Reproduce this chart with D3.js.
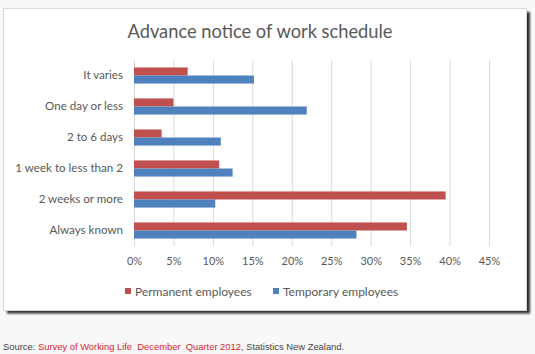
<!DOCTYPE html>
<html>
<head>
<meta charset="utf-8">
<script src="https://cdn.jsdelivr.net/npm/d3@7"></script>
<style>
  body { margin: 0; background: #f8f8f8; }
  svg { display: block; }
</style>
</head>
<body>
<div id="chart"></div>
<script>
// Data (percent of employees)
const categories = ['It varies', 'One day or less', '2 to 6 days', '1 week to less than 2', '2 weeks or more', 'Always known'];
const seriesNames = ['Permanent employees', 'Temporary employees'];
const permanent = [6.8, 5.0, 3.5, 10.8, 39.5, 34.6];
const temporary = [15.2, 21.9, 11.0, 12.5, 10.3, 28.2];
const xTicks = [0, 5, 10, 15, 20, 25, 30, 35, 40, 45];

const W = 535, H = 354;
const colors = { 'Permanent employees': '#c0504d', 'Temporary employees': '#4f81bd' };
const textColor = '#595959';
const font = 'Lato, "Open Sans", sans-serif';

const svg = d3.select('#chart').append('svg')
  .attr('width', W)
  .attr('height', H);

// drop shadow + chart frame
const defs = svg.append('defs');
defs.append('filter').attr('id', 'blur')
  .append('feGaussianBlur').attr('stdDeviation', 0.8);

svg.append('rect')
  .attr('x', 7).attr('y', 12)
  .attr('width', 523).attr('height', 301.5)
  .attr('fill', '#2e2e2e')
  .attr('filter', 'url(#blur)');

svg.append('rect')
  .attr('x', 3.5).attr('y', 8.5)
  .attr('width', 523).attr('height', 302)
  .attr('fill', '#fff')
  .attr('stroke', '#d9d9d9');

// Title
svg.append('text')
  .attr('x', 260)
  .attr('y', 38)
  .attr('text-anchor', 'middle')
  .style('font-family', font)
  .style('font-size', '18.3px')
  .style('fill', textColor)
  .text('Advance notice of work schedule');

// Scales
const x = d3.scaleLinear()
  .domain([0, 45])
  .range([134, 489]);

const y = d3.scaleBand()
  .domain(categories)
  .range([60, 246])
  .paddingInner(0.48)
  .paddingOuter(0.24);

const ySub = d3.scaleBand()
  .domain(seriesNames)
  .range([0, y.bandwidth()]);

// Gridlines + x axis labels
const xAxis = svg.append('g')
  .attr('transform', 'translate(0,246)')
  .call(d3.axisBottom(x)
    .tickValues(xTicks)
    .tickSize(-186)
    .tickPadding(11)
    .tickFormat(d => d + '%'));

xAxis.select('.domain').remove();
xAxis.selectAll('.tick line')
  .attr('stroke', '#d9d9d9');
xAxis.selectAll('text')
  .style('font-family', font)
  .style('font-size', '11px')
  .style('fill', textColor);

// Category labels
const yAxis = svg.append('g')
  .attr('transform', 'translate(134,0)')
  .call(d3.axisLeft(y).tickSize(0).tickPadding(11));

yAxis.select('.domain').remove();
yAxis.selectAll('text')
  .style('font-family', font)
  .style('font-size', '11.6px')
  .style('fill', textColor);

// Bars
const rows = categories.map((c, i) => ({
  category: c,
  values: [
    { name: seriesNames[0], value: permanent[i] },
    { name: seriesNames[1], value: temporary[i] }
  ]
}));

svg.selectAll('.group')
  .data(rows)
  .join('g')
  .attr('class', 'group')
  .attr('transform', d => `translate(0,${y(d.category)})`)
  .selectAll('rect')
  .data(d => d.values)
  .join('rect')
  .attr('x', x(0))
  .attr('y', d => ySub(d.name))
  .attr('width', d => x(d.value) - x(0))
  .attr('height', ySub.bandwidth())
  .attr('fill', d => colors[d.name]);

// Legend
const legendX = [125, 273];
const legend = svg.append('g');
seriesNames.forEach((name, i) => {
  legend.append('rect')
    .attr('x', legendX[i])
    .attr('y', 288)
    .attr('width', 6)
    .attr('height', 6)
    .attr('fill', colors[name]);
  legend.append('text')
    .attr('x', legendX[i] + 10)
    .attr('y', 295.5)
    .style('font-family', font)
    .style('font-size', '12px')
    .style('fill', textColor)
    .text(name);
});

// Source line
const source = svg.append('text')
  .attr('x', 3)
  .attr('y', 350)
  .style('white-space', 'pre')
  .style('font-family', '"Liberation Sans", Arial, sans-serif')
  .style('font-size', '9.4px')
  .style('fill', '#444');
source.append('tspan').text('Source: ');
source.append('tspan').style('fill', '#d62631').text('Survey of Working Life  December  Quarter 2012');
source.append('tspan').text(', Statistics New Zealand.');
</script>
</body>
</html>
